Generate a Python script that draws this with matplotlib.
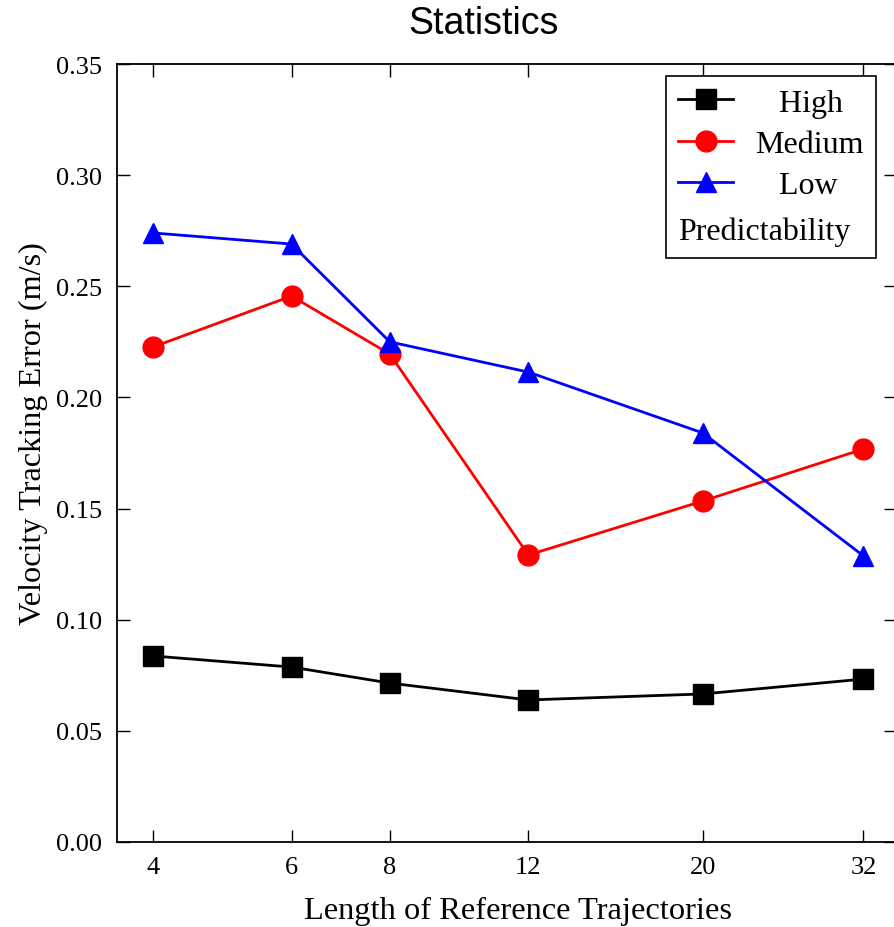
import matplotlib
matplotlib.use("Agg")
import matplotlib.pyplot as plt
from matplotlib.ticker import FixedLocator, NullLocator, FixedFormatter

lengths = [4, 6, 8, 12, 20, 32]
high = [0.0837, 0.0787, 0.0715, 0.0639, 0.0666, 0.0733]
medium = [0.2227, 0.2456, 0.2195, 0.1291, 0.1534, 0.1768]
low = [0.2740, 0.2690, 0.2250, 0.2114, 0.1840, 0.1287]
labels = ["   High", "Medium", "   Low"]
yticks = [0.00, 0.05, 0.10, 0.15, 0.20, 0.25, 0.30, 0.35]

serif = ["Liberation Serif", "DejaVu Serif"]

fig = plt.figure(figsize=(8.94, 9.28), dpi=100)
ax = fig.add_axes([117/894, 85/928, 779/894, 778/928])

ax.plot(lengths, high, color="black", marker="s", markersize=14, lw=2, label=labels[0])
ax.plot(lengths, medium, color="red", marker="o", markersize=15, lw=2, label=labels[1])
ax.plot(lengths, low, color="blue", marker="^", markersize=15, lw=2, label=labels[2])

ax.set_xscale("log", base=2)
ax.set_xlim(3.6, 35.2)
ax.set_ylim(0, 0.35)
ax.xaxis.set_major_locator(FixedLocator(lengths))
ax.xaxis.set_major_formatter(FixedFormatter([str(v) for v in lengths]))
ax.xaxis.set_minor_locator(NullLocator())
ax.set_yticks(yticks)
ax.set_yticklabels([f"{v:.2f}" for v in yticks])

ax.tick_params(direction="in", length=9, width=1, top=True, right=True)
ax.tick_params(axis="x", pad=10)
ax.tick_params(axis="y", pad=10.5)
for t in ax.get_xticklabels() + ax.get_yticklabels():
    t.set_fontfamily(serif)
    t.set_fontsize(19)
for s in ax.spines.values():
    s.set_linewidth(1.3)

ax.set_xlabel("Length of Reference Trajectories", fontfamily=serif, fontsize=23.4)
ax.xaxis.set_label_coords((517.5 - 117) / 779, -0.070)
ax.set_ylabel("Velocity Tracking Error (m/s)", fontfamily=serif, fontsize=23.2)
ax.yaxis.set_label_coords((48 - 117) / 779, (843 - 433.5) / 778)
ax.set_title("Statistics", fontfamily=["Liberation Sans", "DejaVu Sans"], fontsize=27,
             x=(484 - 117) / 779, pad=22)

leg = ax.legend(loc="upper right", bbox_to_anchor=(0.974, 0.9845), title="Predictability",
                prop={"family": serif, "size": 23}, title_fontproperties={"family": serif, "size": 23},
                frameon=True, fancybox=False, edgecolor="black", framealpha=1,
                handlelength=1.7, handletextpad=0.7, borderpad=0.38, labelspacing=0.37,
                borderaxespad=0, markerscale=1.0)
leg.get_frame().set_linewidth(1.2)
leg._legend_box._children = leg._legend_box.get_children()[::-1]
leg._legend_box.align = "left"
leg._legend_box.sep = 12

fig.savefig("out.png", dpi=100)
